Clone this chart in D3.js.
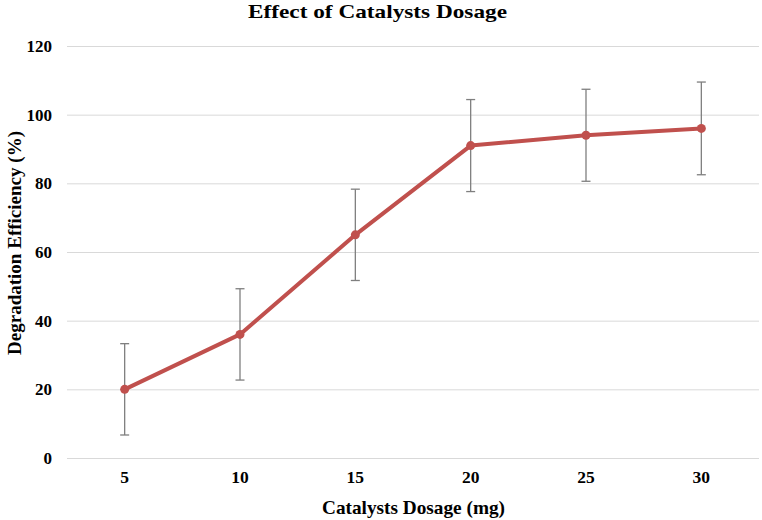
<!DOCTYPE html>
<html><head><meta charset="utf-8">
<script src="https://cdn.jsdelivr.net/npm/d3@7"></script>
<style>body{margin:0;background:#fff}svg{display:block}</style>
</head><body>
<svg id="c" width="762" height="520"></svg>
<script>
const categories = ["5","10","15","20","25","30"];
const efficiency = [20, 36, 65, 91, 94, 96];
const errors = [13.3, 13.3, 13.3, 13.4, 13.4, 13.5];
const yTicks = [0, 20, 40, 60, 80, 100, 120];

(function () {
const svg = d3.select("#c");
const font = "'Liberation Serif','Times New Roman',serif";
const pL = 67, pR = 759, pT = 46, pB = 458;

const x = d3.scaleBand().domain(categories).range([pL, pR]);
const y = d3.scaleLinear().domain([0, 120]).range([pB, pT]);
const cx = d => x(d) + x.bandwidth() / 2;

const yAxis = d3.axisLeft(y).tickValues(yTicks).tickSize(-(pR - pL)).tickPadding(15);
const gy = svg.append("g").attr("transform", `translate(${pL},0)`).call(yAxis);
gy.select(".domain").remove();
gy.selectAll(".tick line").attr("stroke", "#d9d9d9").attr("stroke-width", 1);
gy.selectAll(".tick text").attr("font-family", font).attr("font-weight", "bold")
  .attr("font-size", 17).attr("fill", "#000");

const xAxis = d3.axisBottom(x).tickSize(0).tickPadding(13);
const gx = svg.append("g").attr("transform", `translate(0,${pB})`).call(xAxis);
gx.select(".domain").remove();
gx.selectAll(".tick text").attr("font-family", font).attr("font-weight", "bold")
  .attr("font-size", 17.5).attr("fill", "#000");

const eb = svg.append("g").attr("stroke", "#7f7f7f").attr("stroke-width", 1.3);
categories.forEach((c, i) => {
  const v = efficiency[i], e = errors[i];
  eb.append("line").attr("x1", cx(c)).attr("x2", cx(c)).attr("y1", y(v + e)).attr("y2", y(v - e));
  eb.append("line").attr("x1", cx(c) - 4.5).attr("x2", cx(c) + 4.5).attr("y1", y(v + e)).attr("y2", y(v + e));
  eb.append("line").attr("x1", cx(c) - 4.5).attr("x2", cx(c) + 4.5).attr("y1", y(v - e)).attr("y2", y(v - e));
});

const line = d3.line().x((d, i) => cx(categories[i])).y(d => y(d));
svg.append("path").datum(efficiency).attr("d", line).attr("fill", "none")
  .attr("stroke", "#c0504d").attr("stroke-width", 4).attr("stroke-linejoin", "round");

svg.append("g").selectAll("circle").data(efficiency).join("circle")
  .attr("cx", (d, i) => cx(categories[i])).attr("cy", d => y(d)).attr("r", 4.5)
  .attr("fill", "#c0504d");

svg.append("text").attr("x", 377.5).attr("y", 18).attr("text-anchor", "middle")
  .attr("font-family", font).attr("font-weight", "bold").attr("font-size", 19.5)
  .attr("textLength", 259).attr("lengthAdjust", "spacingAndGlyphs")
  .text("Effect of Catalysts Dosage");
svg.append("text").attr("x", 413.5).attr("y", 514).attr("text-anchor", "middle")
  .attr("font-family", font).attr("font-weight", "bold").attr("font-size", 19.5)
  .attr("textLength", 183).attr("lengthAdjust", "spacingAndGlyphs")
  .text("Catalysts Dosage (mg)");
svg.append("text").attr("transform", `translate(20.5,243) rotate(-90)`)
  .attr("text-anchor", "middle")
  .attr("font-family", font).attr("font-weight", "bold").attr("font-size", 19.5)
  .attr("textLength", 224).attr("lengthAdjust", "spacingAndGlyphs")
  .text("Degradation Efficiency (%)");
})();
</script>
</body></html>
